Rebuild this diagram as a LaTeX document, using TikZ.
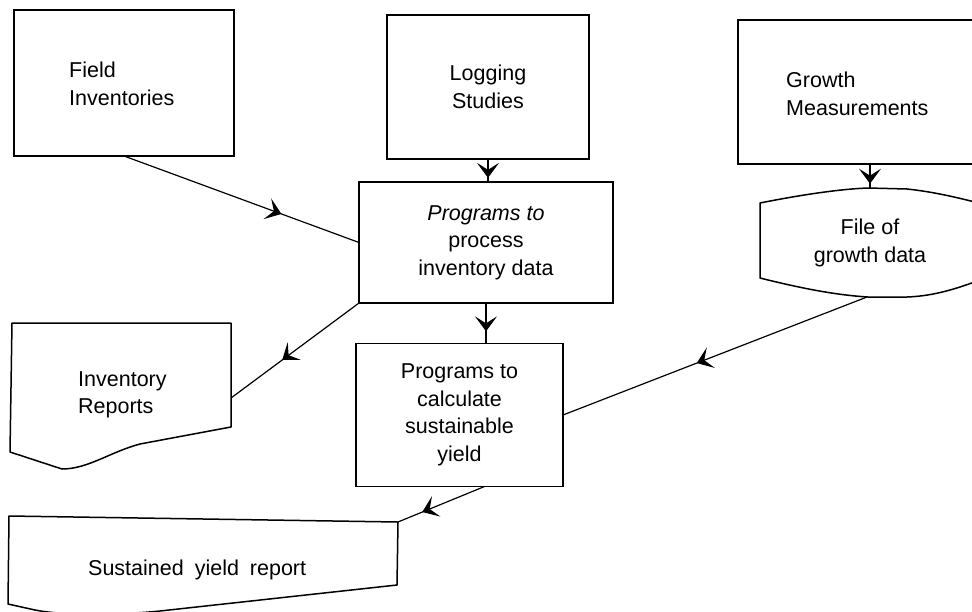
\documentclass[tikz,border=0pt]{standalone}
\usepackage{fontspec}
\setmainfont{Liberation Sans}
\usetikzlibrary{arrows.meta,decorations.markings}
\tikzset{
  box/.style={draw, line width=1.5pt, inner sep=0pt, outer sep=0pt, align=center},
  lbl/.style={inner sep=0pt, align=left},
  shapeline/.style={draw, line width=1.5pt, line join=round},
  conn/.style={draw, line width=1.2pt},
  midarrow/.style={postaction={decorate}, decoration={markings,
      mark=at position #1 with {\arrow{Stealth[length=15pt,width=22pt,inset=7pt]}}}}
}
\begin{document}
\begin{tikzpicture}[x=1pt, y=-1pt, font=\fontsize{21.5}{27.5}\selectfont]
\useasboundingbox (0,0) rectangle (972,611);
\clip (0,0) rectangle (972,611);

% rectangular boxes
\node[box, minimum width=220pt, minimum height=146pt] (field) at (124,83) {};
\node[lbl, anchor=west] (fieldtxt) at (69,84) {Field\\Inventories};

\node[box, minimum width=202pt, minimum height=144pt] (logging) at (488,87) {Logging\\Studies};

\node[box, minimum width=254pt, minimum height=121pt] (process) at (486,242.5)
  {\textit{Programs to}\\process\\inventory data};

\node[box, minimum width=207pt, minimum height=143pt] (calc) at (459.5,415)
  {Programs to\\calculate\\sustainable\\yield};

\node[box, minimum width=264pt, minimum height=144pt] (growth) at (870,92) {};
\node[lbl, anchor=west] (growthtxt) at (786,94) {Growth\\Measurements};

% file of growth data (stored data shape)
\draw[shapeline] (760,203) .. controls (800,195) and (840,189) .. (868,188)
  -- (907,189) .. controls (935,192) and (960,198) .. (990,206)
  -- (990,276) .. controls (960,288) and (935,296) .. (907,297)
  -- (868,297) .. controls (835,295) and (800,288) .. (760,278) -- cycle;
\node[box, draw=none] (file) at (870,243) {File of\\growth data};
\coordinate (fileN) at (868,188);
\coordinate (fileS) at (867,297);

% inventory reports (document shape)
\draw[shapeline] (12,323) -- (231,323) -- (231,427) -- (140,444)
  .. controls (110,452) and (88,469) .. (62,469) -- (10,452) -- cycle;
\node[lbl, anchor=west] (inv) at (78,395) {Inventory\\Reports};
\coordinate (invE) at (231,398);

% sustained yield report (document shape)
\draw[shapeline] (9,516) -- (398,522) -- (397,585) -- (160,611)
  .. controls (110,616) and (60,615) .. (35,610) -- (8,604) -- cycle;
\node[lbl, anchor=west] (syr) at (88,570) {Sustained\hspace{5pt} yield\hspace{5pt} report};
\coordinate (syrNE) at (398,522);

% connectors
\draw[conn, midarrow=0.67] (field.south) -- (process.west);
\draw[conn, midarrow=0.82] (logging.south) -- (logging.south |- process.north);
\draw[conn, midarrow=0.82] (growth.south) -- (growth.south |- fileN);
\draw[conn, midarrow=0.7] (process.south) -- (process.south |- calc.north);
\draw[conn, midarrow=0.6] (process.south west) -- (invE);
\draw[conn, midarrow=0.56] (fileS) -- (calc.east);
\draw[conn, midarrow=0.72] ([xshift=25pt]calc.south) -- (syrNE);
\end{tikzpicture}
\end{document}
